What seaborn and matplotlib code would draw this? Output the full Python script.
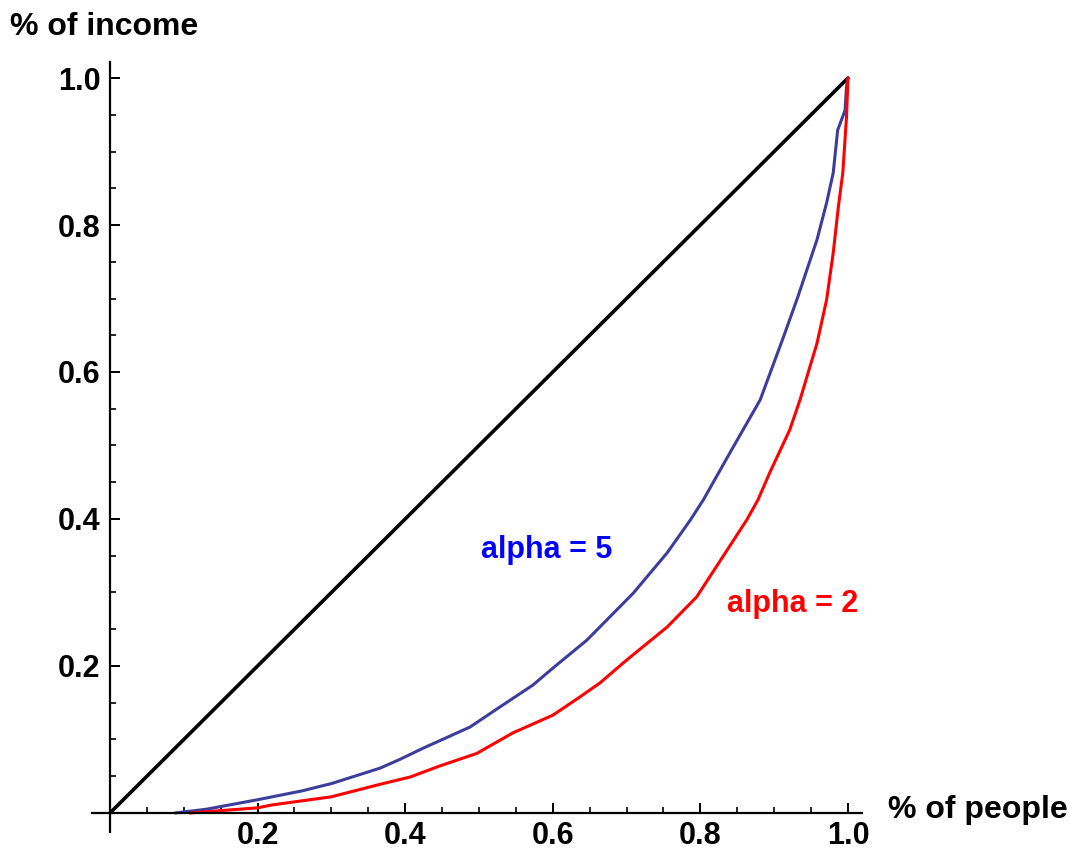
import numpy as np
import pandas as pd
import matplotlib
matplotlib.use("Agg")
import matplotlib.pyplot as plt
import seaborn as sns
from matplotlib.ticker import MultipleLocator, FixedLocator

# ---- data ----
equal_x = [0.0, 1.0]
equal_y = [0.0, 1.0]

alpha5_x = [0.088, 0.13, 0.20, 0.26, 0.30, 0.366, 0.393, 0.424, 0.488, 0.528, 0.573,
            0.600, 0.646, 0.709, 0.755, 0.786, 0.804, 0.840, 0.881, 0.912, 0.932,
            0.958, 0.971, 0.980, 0.986, 0.996, 0.998, 1.0]
alpha5_y = [0.0, 0.005, 0.018, 0.030, 0.040, 0.061, 0.073, 0.088, 0.117, 0.144, 0.174,
            0.197, 0.235, 0.299, 0.354, 0.398, 0.426, 0.490, 0.562, 0.646, 0.702,
            0.780, 0.830, 0.871, 0.929, 0.956, 0.988, 1.0]

alpha2_x = [0.108, 0.20, 0.22, 0.30, 0.366, 0.407, 0.447, 0.497, 0.546, 0.600, 0.637,
            0.664, 0.700, 0.755, 0.795, 0.863, 0.878, 0.894, 0.921, 0.935, 0.946,
            0.958, 0.971, 0.980, 0.987, 0.993, 0.998, 1.0]
alpha2_y = [0.0, 0.007, 0.011, 0.022, 0.039, 0.049, 0.064, 0.081, 0.109, 0.133, 0.158,
            0.177, 0.208, 0.253, 0.294, 0.399, 0.426, 0.463, 0.521, 0.562, 0.599,
            0.639, 0.698, 0.762, 0.825, 0.871, 0.947, 1.0]

major_ticks = [0.2, 0.4, 0.6, 0.8, 1.0]
tick_labels = ["0.2", "0.4", "0.6", "0.8", "1.0"]
x_label = "% of people"
y_label = "% of income"
label5 = "alpha = 5"
label2 = "alpha = 2"

# ---- plot ----
sns.set_style("white")
plt.rcParams['font.family'] = ['Liberation Sans', 'DejaVu Sans']
plt.rcParams['font.weight'] = 'bold'
plt.rcParams['text.color'] = 'black'
plt.rcParams['xtick.color'] = 'black'
plt.rcParams['ytick.color'] = 'black'

fig = plt.figure(figsize=(10.7, 8.49), dpi=100)
ax = fig.add_axes([92/1070, 17/849, 770/1070, 770/849])

df5 = pd.DataFrame({"x": alpha5_x, "y": alpha5_y})
df2 = pd.DataFrame({"x": alpha2_x, "y": alpha2_y})
dfe = pd.DataFrame({"x": equal_x, "y": equal_y})

sns.lineplot(data=dfe, x="x", y="y", ax=ax, color="black", linewidth=2.6, sort=False, estimator=None)
sns.lineplot(data=df5, x="x", y="y", ax=ax, color="#3d3d9c", linewidth=2.2, sort=False, estimator=None)
sns.lineplot(data=df2, x="x", y="y", ax=ax, color="#ff0000", linewidth=2.2, sort=False, estimator=None)

ax.set_xlim(-0.0244, 1.019)
ax.set_ylim(-0.0259, 1.0218)

for s in ["top", "right"]:
    ax.spines[s].set_visible(False)
for s in ["left", "bottom"]:
    ax.spines[s].set_position(("data", 0))
    ax.spines[s].set_linewidth(1.6)
    ax.spines[s].set_color("black")

ax.xaxis.set_major_locator(FixedLocator(major_ticks))
ax.yaxis.set_major_locator(FixedLocator(major_ticks))
ax.xaxis.set_minor_locator(MultipleLocator(0.05))
ax.yaxis.set_minor_locator(MultipleLocator(0.05))
ax.set_xticklabels(tick_labels)
ax.set_yticklabels(tick_labels)
ax.tick_params(which="both", bottom=True, left=True, top=False, right=False)
ax.tick_params(which="major", direction="in", length=7.5, width=1.4, color="black",
               labelsize=22, labelcolor="black")
ax.tick_params(axis="x", which="major", pad=5.5)
ax.tick_params(axis="y", which="major", pad=7)
ax.tick_params(which="minor", direction="in", length=4.5, width=1.2, color="black")
for lab in ax.get_xticklabels() + ax.get_yticklabels():
    lab.set_fontweight("bold")
ax.set_xlabel("")
ax.set_ylabel("")

ax.text(0.592, 0.358, label5, color="#0000ff", fontsize=22, fontweight="bold",
        ha="center", va="center")
ax.text(0.925, 0.284, label2, color="#ff0000", fontsize=22, fontweight="bold",
        ha="center", va="center")

fig.text(10/1070, 1 - 27/849, y_label, fontsize=23, fontweight="bold", ha="left", va="center")
fig.text(888/1070, 1 - 810/849, x_label, fontsize=23, fontweight="bold", ha="left", va="center")

fig.savefig("out.png", dpi=100)
